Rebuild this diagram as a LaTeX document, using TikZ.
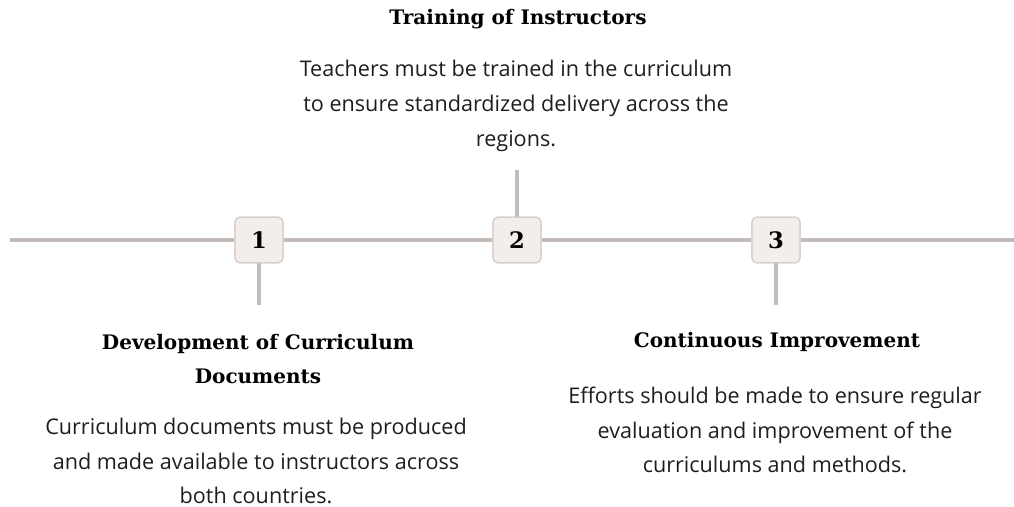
\documentclass[tikz,border=0pt]{standalone}
\usepackage{fontspec}
\setmainfont{Open Sans}
\newfontfamily\headfont{DejaVu Serif}
\begin{document}
\begin{tikzpicture}[x=0.75pt,y=-0.75pt,
  rail/.style={draw=railgray,line width=2.4pt},
  numbox/.style={draw=boxedge,fill=boxfill,line width=0.9pt,rounded corners=3.5pt,
    minimum width=36pt,minimum height=34pt,inner sep=0pt,
    font=\headfont\bfseries\fontsize{17}{17}\selectfont},
  heading/.style={align=center,text=black,font=\headfont\bfseries\fontsize{15}{25}\selectfont},
  body/.style={align=center,text=textgray,font=\fontsize{16.2}{26}\selectfont}]
\definecolor{railgray}{HTML}{C4BCB8}
\definecolor{boxedge}{HTML}{D6CCC8}
\definecolor{boxfill}{HTML}{F4EEEB}
\definecolor{textgray}{HTML}{1E1E1E}
\useasboundingbox (0,0) rectangle (1014,507);
% timeline rail
\coordinate (railL) at (10,240);
\coordinate (railR) at (1014,240);
\coordinate (t1) at (259,305);
\coordinate (t2) at (517,170);
\coordinate (t3) at (776,305);
\node[numbox] (n1) at (259,240) {};
\node[numbox] (n2) at (517,240) {};
\node[numbox] (n3) at (776,240) {};
\draw[rail] (railL) -- (n1.west);
\draw[rail] (n1.east) -- (n2.west);
\draw[rail] (n2.east) -- (n3.west);
\draw[rail] (n3.east) -- (railR);
\draw[rail] (n1.south) -- (t1);
\draw[rail] (n2.north) -- (t2);
\draw[rail] (n3.south) -- (t3);
\node[numbox] at (n1) {1};
\node[numbox] at (n2) {2};
\node[numbox] at (n3) {3};
% step texts
\node[heading] (h2) at (518,19) {Training of Instructors};
\node[body] (b2) at (516,106) {Teachers must be trained in the curriculum\\to ensure standardized delivery across the\\regions.};
\node[heading] (h1) at (258,359) {Development of Curriculum\\Documents};
\node[body] (b1) at (256,461) {Curriculum documents must be produced\\and made available to instructors across\\both countries.};
\node[heading] (h3) at (777,342) {Continuous Improvement};
\node[body] (b3) at (775,430) {Efforts should be made to ensure regular\\evaluation and improvement of the\\curriculums and methods.};
\end{tikzpicture}
\end{document}
